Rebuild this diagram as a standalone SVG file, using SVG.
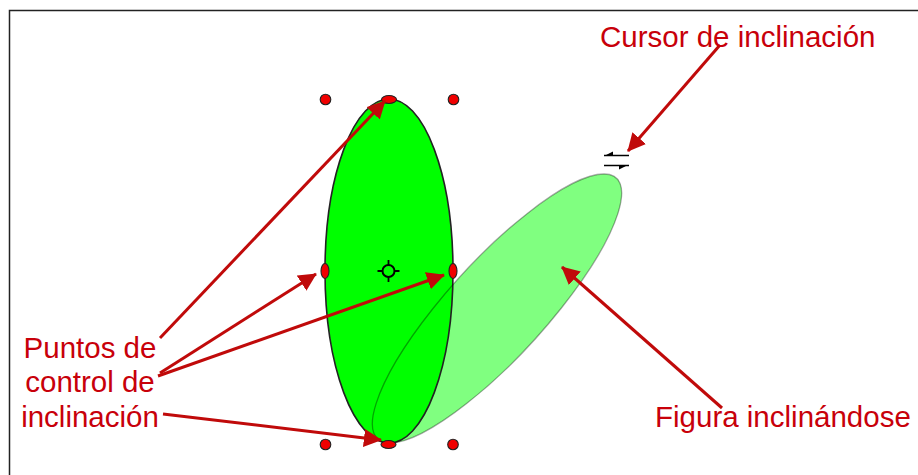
<svg xmlns="http://www.w3.org/2000/svg" width="918" height="475" viewBox="0 0 918 475">
<style>
.lbl{font-family:"Liberation Sans",Arial,sans-serif;font-size:29.500px;fill:#c8000a}
.arr{stroke:#c00a0a;stroke-width:3;fill:none;marker-end:url(#ah)}
.h{fill:#f00000;stroke:#222;stroke-width:1.100}
.ic{stroke:#000;fill:none}
</style>
<defs>
<marker id="ah" viewBox="0 0 10 10" refX="9.500" refY="5" markerWidth="6" markerHeight="6" orient="auto" markerUnits="strokeWidth"><path d="M0 0L10 5L0 10Z" fill="#c00a0a"/></marker>
</defs>
<rect width="918" height="475" fill="#fff"/>
<path d="M9.500 475V10.500H918" fill="none" stroke="#222" stroke-width="1.500"/>
<g id="figura-inclinada"><circle r="1" transform="matrix(64 0 107 -134.500 497 308.500)" fill="#80ff80" stroke="none"/></g>
<g id="elipse"><ellipse cx="389" cy="271" rx="64" ry="172" fill="#00ff00" stroke="#222" stroke-width="1.600"/></g>
<g id="figura-contorno"><circle r="1" transform="matrix(64 0 107 -134.500 497 308.500)" fill="none" stroke="#000" stroke-opacity=".35" stroke-width="1.300" vector-effect="non-scaling-stroke"/></g>
<g id="puntos">
<circle class="h" cx="325.500" cy="99.500" r="5.300"/>
<ellipse class="h" cx="389" cy="99.500" rx="7.500" ry="4"/>
<circle class="h" cx="453.500" cy="99.500" r="5.300"/>
<ellipse class="h" cx="325" cy="271" rx="4" ry="7.500"/>
<ellipse class="h" cx="453" cy="271" rx="4" ry="7.500"/>
<circle class="h" cx="325.500" cy="444.500" r="5.300"/>
<ellipse class="h" cx="388.500" cy="444.500" rx="7.500" ry="4"/>
<circle class="h" cx="453" cy="444.500" r="5.300"/>
</g>
<g id="centro" class="ic"><circle cx="388.500" cy="271" r="6" stroke-width="2"/><path d="M388.500 260v5M388.500 277v5M377.500 271h5M394.500 271h5" stroke-width="1.800"/></g>
<g id="cursor"><path class="ic" d="M604 155.500h25M604 165.500h25" stroke-width="1.700"/><path d="M606 155l7-3.500v3.500zM626 166l-7 3.500v-3.500z" fill="#000"/></g>
<g id="conectores">
<line class="arr" x1="160" y1="338" x2="385" y2="101"/>
<line class="arr" x1="160" y1="373" x2="316" y2="274"/>
<line class="arr" x1="158" y1="376" x2="444" y2="275"/>
<line class="arr" x1="163" y1="414" x2="381" y2="440"/>
<line class="arr" x1="720" y1="45" x2="628" y2="151"/>
<line class="arr" x1="722" y1="408" x2="562" y2="267"/>
</g>
<g id="texto-cursor"><text class="lbl" x="600" y="46.500">Cursor de inclinación</text></g>
<g id="texto-puntos"><text class="lbl" x="90" y="357.500" text-anchor="middle">Puntos de</text><text class="lbl" x="90" y="391.500" text-anchor="middle">control de</text><text class="lbl" x="90" y="426.500" text-anchor="middle">inclinación</text></g>
<g id="texto-figura"><text class="lbl" x="655" y="426.500">Figura inclinándose</text></g>
</svg>
